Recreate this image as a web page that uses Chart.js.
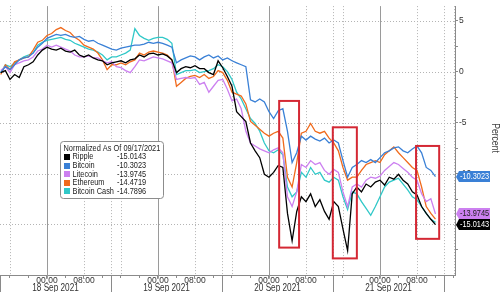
<!DOCTYPE html>
<html>
<head>
<meta charset="utf-8">
<script src="https://cdn.jsdelivr.net/npm/chart.js@4.4.0/dist/chart.umd.min.js"></script>
<style>
  html, body { margin: 0; padding: 0; background: #fff; }
  #wrap { width: 500px; height: 292px; }
  canvas { display: block; }
</style>
</head>
<body>
<div id="wrap"><canvas id="chart" width="500" height="292"></canvas></div>
<script>
// Hours relative to 18 Sep 2021 00:00
const hours = [
  -10, -9, -8, -7, -6, -5, -4, -3, -2, -1,
  0, 1, 2, 3, 4, 5, 6, 7, 8, 9,
  10, 11, 12, 13, 14, 15, 16, 17, 18, 19,
  20, 21, 22, 23, 24, 25, 26, 27, 28, 29,
  30, 31, 32, 33, 34, 35, 36, 37, 38, 39,
  40, 41, 42, 43, 44, 45, 46, 47, 48, 49,
  50, 51, 52, 53, 54, 55, 56, 57, 58, 59,
  60, 61, 62, 63, 64, 65, 66, 67, 68, 69,
  70, 71, 72, 73, 74, 75, 76, 77, 78, 79,
  80, 81, 82, 83, 84
];

const ripple = [
  -0.09, 0.11, -0.76, -0.28, -0.57, 0.49, 0.68, 0.97, 1.64, 2.12,
  2.41, 2.22, 2.12, 2.31, 2.03, 1.93, 2.12, 1.64, 1.45, 1.64,
  1.35, 1.16, 1.07, 0.68, 0.87, 0.97, 1.07, 0.87, 1.16, 1.26,
  1.64, 1.45, 1.74, 1.83, 1.64, 1.74, 1.55, 1.16, -0.09, 0.30,
  0.49, 0.39, 0.59, 0.30, 0.30, -0.09, -0.28, 1.07, 0.39, -0.47,
  -1.43, -3.93, -4.41, -4.89, -7.00, -7.77, -8.44, -10.07, -10.36, -9.88,
  -9.21, -9.40, -13.91, -16.60, -13.72, -12.28, -12.76, -11.99, -13.24, -12.57,
  -13.72, -14.49, -12.76, -13.24, -15.45, -17.56, -11.99, -11.32, -11.80, -11.03,
  -11.32, -10.84, -10.65, -11.13, -10.36, -10.55, -10.07, -10.65, -11.03, -11.80,
  -12.09, -13.24, -13.91, -14.49, -15.0143
];

const bitcoin = [
  -0.09, 0.49, 0.20, 0.68, 1.16, 1.35, 1.45, 1.83, 2.41, 2.79,
  3.27, 3.47, 3.66, 3.56, 3.66, 3.47, 3.37, 3.47, 3.18, 2.99,
  3.08, 2.79, 2.60, 2.41, 2.22, 2.12, 2.31, 2.41, 2.51, 2.60,
  2.60, 2.70, 2.89, 2.79, 2.89, 2.79, 2.60, 2.41, 0.87, 1.16,
  1.35, 1.55, 1.45, 1.16, 1.45, 1.64, 1.35, 1.55, 1.16, 1.35,
  1.07, 0.87, 0.68, 0.49, -2.77, -2.97, -2.68, -2.97, -3.93, -4.60,
  -3.83, -3.64, -5.85, -8.92, -7.96, -6.33, -6.71, -6.33, -6.62, -6.81,
  -6.52, -7.00, -6.71, -7.00, -8.73, -10.36, -9.40, -9.11, -8.73, -8.92,
  -8.63, -8.92, -8.44, -7.96, -7.77, -7.48, -7.38, -7.77, -7.96, -7.58,
  -7.29, -7.96, -9.40, -9.69, -10.3023
];

const litecoin = [
  0.11, 0.49, -0.09, 0.68, 0.87, 1.07, 1.16, 1.45, 2.03, 2.22,
  2.60, 2.41, 2.60, 2.41, 2.22, 2.03, 1.64, 1.45, 1.45, 1.55,
  1.35, 1.35, 1.07, 0.87, 0.97, 0.49, 0.39, 0.11, -0.09, 0.49,
  1.16, 1.07, 1.26, 1.45, 1.35, 1.26, 1.07, 0.87, -0.76, -0.66,
  -0.57, -0.66, -0.57, -1.24, -1.05, -2.01, -1.43, -0.85, -0.76, -1.72,
  -2.87, -2.68, -3.64, -5.85, -7.00, -7.29, -7.58, -7.77, -7.96, -7.67,
  -7.48, -7.96, -12.28, -13.24, -11.80, -9.11, -9.40, -8.73, -9.11, -8.92,
  -9.69, -10.07, -9.59, -9.88, -11.80, -13.24, -11.32, -11.03, -11.32, -10.65,
  -10.36, -10.46, -10.26, -9.69, -9.30, -8.92, -9.11, -9.50, -9.88, -10.36,
  -10.65, -11.99, -12.76, -12.47, -13.9745
];

const ethereum = [
  -0.28, 0.68, 0.20, 0.97, 1.16, 1.35, 1.45, 2.12, 2.89, 3.08,
  3.56, 3.75, 4.14, 4.33, 4.04, 3.85, 3.37, 3.08, 2.60, 2.41,
  2.22, 1.83, 1.16, 0.20, 0.68, 0.68, 0.87, 0.68, 0.97, 1.16,
  1.83, 1.64, 1.93, 2.03, 1.93, 1.83, 1.64, 1.16, -1.43, -1.05,
  -0.66, -0.47, -0.37, -0.57, -0.28, -0.66, -0.47, 0.11, -0.09, -0.85,
  -2.01, -2.20, -2.39, -3.16, -4.89, -5.27, -5.66, -6.04, -6.33, -6.04,
  -5.85, -6.52, -10.36, -11.32, -8.92, -6.04, -5.85, -5.08, -5.85, -6.04,
  -5.85, -6.52, -7.00, -7.77, -9.40, -10.65, -10.36, -10.36, -9.69, -9.11,
  -8.92, -8.73, -8.92, -8.15, -7.77, -7.38, -7.96, -8.44, -8.92, -9.40,
  -9.69, -11.32, -13.24, -13.91, -14.4719
];

const bitcoinCash = [
  -0.09, 0.68, 0.49, 0.87, 1.16, 1.45, 1.64, 1.83, 2.60, 2.89,
  3.08, 3.18, 3.27, 3.37, 3.18, 3.08, 2.79, 2.60, 2.41, 2.22,
  2.12, 1.93, 1.64, 1.16, 1.45, 1.45, 1.64, 1.83, 2.12, 4.23,
  3.56, 3.27, 3.08, 3.27, 3.37, 3.37, 3.18, 2.79, -0.28, -0.09,
  0.11, 0.11, 0.20, -0.09, 0.01, 0.11, 0.30, 0.68, 0.49, 0.01,
  -0.76, -2.01, -2.68, -3.64, -4.60, -5.08, -5.85, -7.00, -7.77, -7.96,
  -7.67, -8.15, -11.32, -12.28, -11.80, -9.88, -10.36, -9.40, -10.07, -9.88,
  -10.65, -10.84, -10.36, -10.65, -12.28, -13.53, -11.80, -11.99, -12.76, -13.43,
  -14.10, -13.24, -12.28, -11.32, -10.84, -10.65, -10.46, -11.03, -11.61, -12.28,
  -12.57, -13.24, -13.91, -14.49, -14.7896
];

const seriesNames = ['Ripple', 'Bitcoin', 'Litecoin', 'Ethereum', 'Bitcoin Cash'];
const seriesColors = ['#000000', '#3a80d6', '#cc80f0', '#f06a1c', '#30c8c8'];
const seriesData = [ripple, bitcoin, litecoin, ethereum, bitcoinCash];

const xTickHours = [0, 8, 24, 32, 48, 56, 72, 80];
const xTickLabels = ['00:00', '08:00', '00:00', '08:00', '00:00', '08:00', '00:00', '08:00'];
const dayLabels = ['18 Sep 2021', '19 Sep 2021', '20 Sep 2021', '21 Sep 2021'];
const yMajor = [5, 0, -5, -10, -15];
const legendTitle = 'Normalized As Of 09/17/2021';
// series that get a value flag on the right axis
const flagged = [1, 2, 0];
// highlighted windows: [hour from, value top, hour to, value bottom]
const boxes = [[50.2, -2.87, 54.5, -17.27], [61.8, -5.46, 67.0, -18.33], [79.8, -7.29, 84.8, -16.41]];

const X_MIN = -10.16, X_MAX = 88.22;
const Y_MIN = -19.96, Y_MAX = 6.44;
const FONT_FAMILY = "'Liberation Sans', Arial, sans-serif";
const font = (size) => `${size}px ${FONT_FAMILY}`;
const NARROW = 0.82;   // no narrow face installed, squeeze the regular one

const fmt = v => v.toFixed(4);

// draw text horizontally condensed, like Arial Narrow
function narrowText(ctx, str, x, y, align) {
    ctx.save();
    ctx.translate(x, y);
    ctx.scale(NARROW, 1);
    ctx.textAlign = align || 'left';
    ctx.fillText(str, 0, 0);
    ctx.restore();
}

const bbgPlugin = {
    id: 'bbg',
    beforeDatasetsDraw(chart) {
        const { ctx, chartArea: a, scales: { x, y } } = chart;
        ctx.save();
        ctx.lineWidth = 1;

        // dotted grid
        ctx.strokeStyle = '#b4b4b4';
        ctx.setLineDash([1, 2]);
        yMajor.forEach(v => {
            const py = Math.round(y.getPixelForValue(v)) + 0.5;
            ctx.beginPath(); ctx.moveTo(a.left, py); ctx.lineTo(a.right, py); ctx.stroke();
        });
        const dotted = [];
        for (let h = -8; h <= X_MAX; h += 8) if (h % 24 !== 0) dotted.push(h);
        for (let h = X_MIN + 24; h < X_MAX; h += 24) dotted.push(h);
        dotted.forEach(h => {
            const px = Math.round(x.getPixelForValue(h)) + 0.5;
            ctx.beginPath(); ctx.moveTo(px, a.top); ctx.lineTo(px, a.bottom); ctx.stroke();
        });

        // solid midnight lines
        ctx.setLineDash([]);
        ctx.strokeStyle = '#9a9a9a';
        [0, 24, 48, 72].forEach(h => {
            const px = Math.round(x.getPixelForValue(h)) + 0.5;
            ctx.beginPath(); ctx.moveTo(px, a.top); ctx.lineTo(px, a.bottom + 3); ctx.stroke();
        });
        ctx.restore();
    },
    afterDatasetsDraw(chart) {
        const { ctx, scales: { x, y } } = chart;
        ctx.save();
        ctx.strokeStyle = '#d42834';
        ctx.lineWidth = 2;
        boxes.forEach(([h0, v0, h1, v1]) => {
            const x0 = x.getPixelForValue(h0), x1 = x.getPixelForValue(h1);
            const y0 = y.getPixelForValue(v0), y1 = y.getPixelForValue(v1);
            ctx.strokeRect(x0, y0, x1 - x0, y1 - y0);
        });
        ctx.restore();
    },
    afterDraw(chart) {
        const { ctx, chartArea: a, scales: { x, y } } = chart;
        ctx.save();

        // day separators and date labels in the axis strip
        ctx.strokeStyle = '#8a8a8a';
        ctx.lineWidth = 1;
        for (let h = X_MIN; h < X_MAX; h += 24) {
            const px = Math.round(x.getPixelForValue(h)) + 0.5;
            ctx.beginPath(); ctx.moveTo(px, a.bottom); ctx.lineTo(px, chart.height); ctx.stroke();
        }
        ctx.fillStyle = '#333';
        ctx.font = font(10);
        ctx.textBaseline = 'middle';
        dayLabels.forEach((lbl, i) => {
            narrowText(ctx, lbl, x.getPixelForValue(X_MIN + 12 + 24 * i), 288.5, 'center');
        });

        // legend box
        const bx = 60.5, by = 141.5, bw = 103, bh = 57;
        ctx.fillStyle = '#fff';
        ctx.strokeStyle = '#8c8c8c';
        ctx.beginPath();
        if (ctx.roundRect) ctx.roundRect(bx, by, bw, bh, 3); else ctx.rect(bx, by, bw, bh);
        ctx.fill(); ctx.stroke();
        ctx.fillStyle = '#222';
        ctx.font = font(9);
        narrowText(ctx, legendTitle, 63.5, 148.5);
        seriesNames.forEach((name, i) => {
            const cy = 157 + i * 8.6;
            ctx.fillStyle = seriesColors[i];
            ctx.fillRect(64, Math.round(cy - 3), 6, 6);
            ctx.fillStyle = '#222';
            narrowText(ctx, name, 72.5, cy);
            const d = seriesData[i];
            narrowText(ctx, fmt(d[d.length - 1]), 117, cy);
        });

        // value flags on the right axis
        flagged.forEach(i => {
            const d = seriesData[i];
            const v = d[d.length - 1];
            const py = Math.round(y.getPixelForValue(v));
            const l = a.right + 1;
            ctx.fillStyle = seriesColors[i];
            ctx.beginPath();
            ctx.moveTo(l, py);
            ctx.lineTo(l + 3, py - 6);
            ctx.lineTo(l + 34, py - 6);
            ctx.lineTo(l + 34, py + 5);
            ctx.lineTo(l + 3, py + 5);
            ctx.closePath();
            ctx.fill();
            ctx.fillStyle = i === 2 ? '#222' : '#fff';
            ctx.font = font(9);
            narrowText(ctx, fmt(v), l + 4, py);
        });

        // axis title
        ctx.translate(495, 138);
        ctx.rotate(Math.PI / 2);
        ctx.fillStyle = '#444';
        ctx.font = font(10.5);
        narrowText(ctx, 'Percent', 0, 0, 'center');
        ctx.restore();
    }
};

const datasets = seriesNames.map((name, i) => ({
    label: name,
    data: hours.map((h, j) => ({ x: h, y: seriesData[i][j] })),
    borderColor: seriesColors[i],
    borderWidth: 1.3,
    pointRadius: 0,
    tension: 0,
    fill: false
}));

new Chart(document.getElementById('chart'), {
    type: 'line',
    data: { datasets },
    options: {
        responsive: false,
        animation: false,
        devicePixelRatio: 1,
        layout: { padding: 0 },
        plugins: { legend: { display: false }, tooltip: { enabled: false } },
        scales: {
            x: {
                type: 'linear',
                position: 'bottom',
                min: X_MIN,
                max: X_MAX,
                afterBuildTicks: (scale) => {
                    const t = [];
                    for (let h = -8; h <= X_MAX; h += 4) t.push({ value: h });
                    scale.ticks = t;
                },
                afterFit: (scale) => { scale.height = 17; },
                grid: { drawOnChartArea: false, drawTicks: true, tickLength: 3, color: '#8a8a8a' },
                border: { color: '#8a8a8a' },
                ticks: {
                    autoSkip: false,
                    maxRotation: 0,
                    padding: -2,
                    color: '#333',
                    font: { family: FONT_FAMILY, size: 8.5 },
                    callback: (v) => {
                        const k = xTickHours.indexOf(v);
                        return k >= 0 ? xTickLabels[k] : '';
                    }
                }
            },
            y: {
                type: 'linear',
                position: 'right',
                min: Y_MIN,
                max: Y_MAX,
                afterBuildTicks: (scale) => {
                    const t = [];
                    for (let v = -17.5; v <= 5; v += 2.5) t.push({ value: v });
                    scale.ticks = t;
                },
                afterFit: (scale) => { scale.width = 45; },
                grid: { drawOnChartArea: false, drawTicks: true, tickLength: 3, color: '#8a8a8a' },
                border: { color: '#8a8a8a' },
                ticks: {
                    padding: 1,
                    color: '#333',
                    font: { family: FONT_FAMILY, size: 8.5 },
                    callback: (v) => (yMajor.includes(v) ? String(v) : '')
                }
            }
        }
    },
    plugins: [bbgPlugin]
});
</script>
</body>
</html>
